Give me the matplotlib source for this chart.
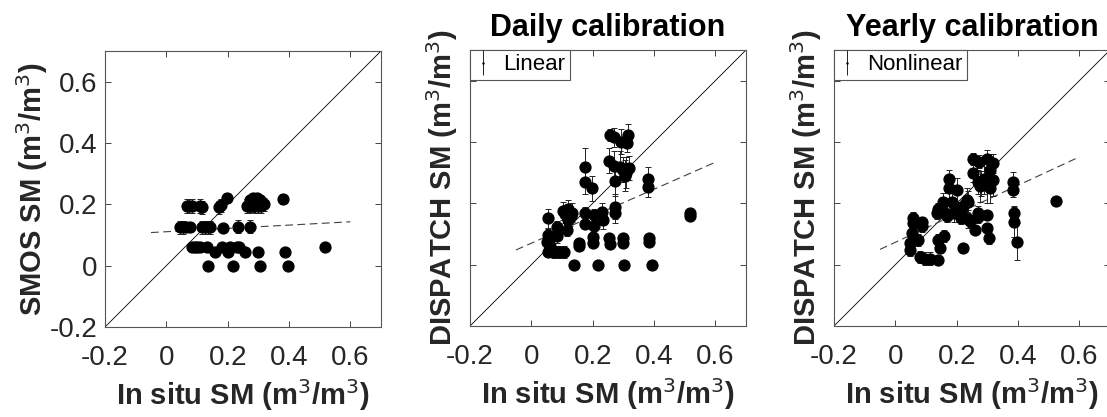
import matplotlib
matplotlib.use("Agg")
import matplotlib.pyplot as plt
from matplotlib.legend_handler import HandlerErrorbar
import numpy as np

plt.rcParams['font.family'] = ['Liberation Sans', 'DejaVu Sans']

# ---------------- data ----------------
ticks = [-0.2, 0, 0.2, 0.4, 0.6]
tick_labels = ['-0.2', '0', '0.2', '0.4', '0.6']
lims = [-0.2, 0.7]
fit_range = [-0.05, 0.6]

# Panel 1: SMOS vs in situ
smos_x = [0.045, 0.055, 0.065, 0.077, 0.116, 0.125, 0.135, 0.143, 0.186, 0.235, 0.273,
          0.067, 0.075, 0.085, 0.11, 0.115, 0.172, 0.178, 0.262, 0.27, 0.28, 0.29, 0.30, 0.31, 0.318,
          0.197, 0.272, 0.283, 0.295, 0.306, 0.382,
          0.083, 0.092, 0.10, 0.11, 0.132, 0.18, 0.208, 0.23, 0.237, 0.517,
          0.159, 0.20, 0.257, 0.30, 0.388,
          0.137, 0.219, 0.306, 0.398]
smos_y = [0.125, 0.125, 0.125, 0.125, 0.125, 0.125, 0.125, 0.125, 0.122, 0.127, 0.127,
          0.195, 0.195, 0.195, 0.195, 0.19, 0.19, 0.197, 0.195, 0.195, 0.198, 0.195, 0.195, 0.195, 0.20,
          0.22, 0.215, 0.22, 0.22, 0.215, 0.218,
          0.06, 0.06, 0.06, 0.06, 0.06, 0.06, 0.06, 0.06, 0.06, 0.062,
          0.046, 0.046, 0.046, 0.046, 0.046,
          0.0, 0.0, 0.0, 0.0]
smos_err = [0.022, 0.022, 0.015, 0.015, 0.022, 0.022, 0.022, 0.022, 0.005, 0.022, 0.022,
            0.022, 0.022, 0.022, 0.022, 0.022, 0.022, 0.022, 0.022, 0.022, 0.022, 0.022, 0.022, 0.022, 0.022,
            0.017, 0.017, 0.017, 0.017, 0.017, 0.017,
            0, 0, 0, 0, 0, 0, 0, 0, 0, 0,
            0, 0, 0, 0, 0,
            0, 0, 0, 0]
smos_fit = [0.1107, 0.054]  # intercept, slope

# Panel 2: DISPATCH (daily calibration, linear)
daily_x = [0.257, 0.270, 0.316, 0.294, 0.311, 0.254, 0.270, 0.29, 0.30, 0.31, 0.32, 0.305, 0.273,
           0.175, 0.175, 0.198, 0.382, 0.382, 0.517, 0.517, 0.273, 0.273,
           0.104, 0.11, 0.118, 0.126, 0.134, 0.12, 0.13,
           0.175, 0.175, 0.203, 0.203, 0.232, 0.235,
           0.055, 0.083, 0.115, 0.055, 0.083, 0.05, 0.055, 0.075, 0.09, 0.105, 0.062,
           0.157, 0.157, 0.20, 0.20, 0.254, 0.256, 0.298, 0.298, 0.385, 0.385,
           0.139, 0.216, 0.302, 0.395]
daily_y = [0.423, 0.415, 0.423, 0.401, 0.397, 0.339, 0.322, 0.32, 0.31, 0.30, 0.315, 0.29, 0.273,
           0.32, 0.271, 0.249, 0.279, 0.252, 0.170, 0.159, 0.189, 0.167,
           0.175, 0.165, 0.18, 0.155, 0.17, 0.146, 0.16,
           0.167, 0.132, 0.161, 0.125, 0.172, 0.146,
           0.151, 0.124, 0.113, 0.097, 0.092, 0.075, 0.042, 0.042, 0.042, 0.042, 0.06,
           0.071, 0.062, 0.091, 0.071, 0.086, 0.068, 0.086, 0.070, 0.086, 0.075,
           0.0, 0.0, 0.0, 0.0]
daily_err = [0.02, 0.03, 0.035, 0.04, 0.03, 0.04, 0.05, 0.05, 0.04, 0.05, 0.04, 0.05, 0.05,
             0.06, 0.04, 0.04, 0.04, 0.03, 0.0, 0.0, 0.04, 0.03,
             0.03, 0.03, 0.03, 0.03, 0.03, 0.02, 0.02,
             0.02, 0.01, 0.02, 0.01, 0.03, 0.03,
             0.03, 0.02, 0.02, 0.02, 0.02, 0.02, 0.015, 0.02, 0.02, 0.02, 0.02,
             0.0, 0.0, 0.0, 0.0, 0.0, 0.0, 0.0, 0.0, 0.0, 0.0,
             0.0, 0.0, 0.0, 0.0]
daily_fit = [0.070, 0.44]

# Panel 3: DISPATCH (yearly calibration, nonlinear)
yearly_x = [0.254, 0.274, 0.30, 0.317, 0.31, 0.254, 0.27, 0.276, 0.29, 0.30, 0.317, 0.31, 0.28,
            0.176, 0.176, 0.20, 0.184, 0.233, 0.236, 0.385, 0.385, 0.523, 0.388, 0.388, 0.397,
            0.155, 0.14, 0.135, 0.155, 0.17, 0.19, 0.195, 0.215, 0.215, 0.22,
            0.059, 0.059, 0.086, 0.086, 0.053, 0.075, 0.048, 0.048, 0.081, 0.097, 0.114,
            0.14, 0.14, 0.146, 0.16, 0.22, 0.238, 0.243, 0.26, 0.27, 0.27, 0.30, 0.30, 0.307]
yearly_y = [0.344, 0.336, 0.344, 0.33, 0.31, 0.298, 0.27, 0.255, 0.28, 0.26, 0.275, 0.25, 0.265,
            0.278, 0.249, 0.243, 0.205, 0.211, 0.205, 0.271, 0.242, 0.208, 0.167, 0.140, 0.075,
            0.205, 0.18, 0.17, 0.175, 0.16, 0.168, 0.185, 0.175, 0.152, 0.19,
            0.151, 0.135, 0.14, 0.125, 0.102, 0.08, 0.07, 0.048, 0.026, 0.02, 0.02,
            0.08, 0.015, 0.053, 0.093, 0.055, 0.148, 0.142, 0.113, 0.155, 0.17, 0.163, 0.119, 0.086]
yearly_err = [0.02, 0.02, 0.03, 0.03, 0.05, 0.03, 0.04, 0.05, 0.05, 0.06, 0.05, 0.05, 0.04,
              0.03, 0.04, 0.04, 0.03, 0.04, 0.035, 0.03, 0.02, 0.0, 0.02, 0.05, 0.06,
              0.03, 0.02, 0.02, 0.02, 0.02, 0.03, 0.02, 0.02, 0.02, 0.02,
              0.02, 0.02, 0.015, 0.02, 0.02, 0.02, 0.02, 0.02, 0.02, 0.02, 0.02,
              0.02, 0.0, 0.0, 0.02, 0.01, 0.03, 0.02, 0.0, 0.02, 0.02, 0.0, 0.0, 0.02]
yearly_fit = [0.073, 0.464]

panels = [
    dict(x=smos_x, y=smos_y, e=smos_err, fit=smos_fit, ylabel='SMOS SM (m$^3$/m$^3$)',
         title=None, legend=None, yticklabels=True),
    dict(x=daily_x, y=daily_y, e=daily_err, fit=daily_fit, ylabel='DISPATCH SM (m$^3$/m$^3$)',
         title='Daily calibration', legend='Linear', yticklabels=False),
    dict(x=yearly_x, y=yearly_y, e=yearly_err, fit=yearly_fit, ylabel='DISPATCH SM (m$^3$/m$^3$)',
         title='Yearly calibration', legend='Nonlinear', yticklabels=False),
]

W, H = 1107, 417
fig = plt.figure(figsize=(W / 100, H / 100), dpi=100)
lefts = [105, 470, 834]
tops = [51, 50, 50]
size = 276
gray = '#262626'

for p, left, top in zip(panels, lefts, tops):
    ax = fig.add_axes([left / W, (H - top - size) / H, size / W, size / H])
    ax.plot(lims, lims, color='k', lw=0.6, zorder=1)
    fx = np.array(fit_range)
    ax.plot(fx, p['fit'][0] + p['fit'][1] * fx, color='#404040', lw=0.8,
            ls=(0, (7, 4)), zorder=1)
    ax.errorbar(p['x'], p['y'], yerr=p['e'], fmt='none', ecolor='#222222',
                elinewidth=0.7, capsize=2.5, capthick=0.7, zorder=2)
    ax.plot(p['x'], p['y'], 'o', color='k', ms=7.8, zorder=3)
    ax.set_xlim(lims)
    ax.set_ylim(lims)
    ax.set_xticks(ticks)
    ax.set_yticks(ticks)
    ax.set_xticklabels(tick_labels)
    if p['yticklabels']:
        ax.set_yticklabels(tick_labels)
    else:
        ax.set_yticklabels([])
    ax.tick_params(direction='in', top=True, right=True, length=4, width=0.6,
                   labelsize=20, colors=gray)
    ax.tick_params(axis='x', pad=13)
    ax.tick_params(axis='y', pad=5.5)
    for s in ax.spines.values():
        s.set_color('#555555')
        s.set_linewidth(0.8)
    ax.set_xlabel('In situ SM (m$^3$/m$^3$)', fontsize=21, fontweight='bold', color=gray)
    ax.xaxis.set_label_coords(0.5, -0.18)
    ax.set_ylabel(p['ylabel'], fontsize=21, fontweight='bold', color=gray)
    if p['yticklabels']:
        ax.yaxis.set_label_coords(-0.2, 0.5)
    else:
        ax.yaxis.set_label_coords(-0.035, 0.5)
    if p['title']:
        ax.set_title(p['title'], fontsize=22, fontweight='bold', color='k', pad=10)
    if p['legend']:
        h = ax.errorbar([], [], yerr=[], fmt='.', ms=1.5, color='k', ecolor='#222222',
                        elinewidth=0.7, capsize=2.5, capthick=0.7, label=p['legend'])
        leg = ax.legend(loc='upper left', borderaxespad=0, fancybox=False,
                        edgecolor='#555555', framealpha=1, fontsize=16,
                        handlelength=0.8, handletextpad=0.5, borderpad=0.2,
                        handler_map={type(h): HandlerErrorbar(xerr_size=0.5, yerr_size=0.55)})
        leg.get_frame().set_linewidth(0.8)

fig.savefig('out.png', dpi=100)
